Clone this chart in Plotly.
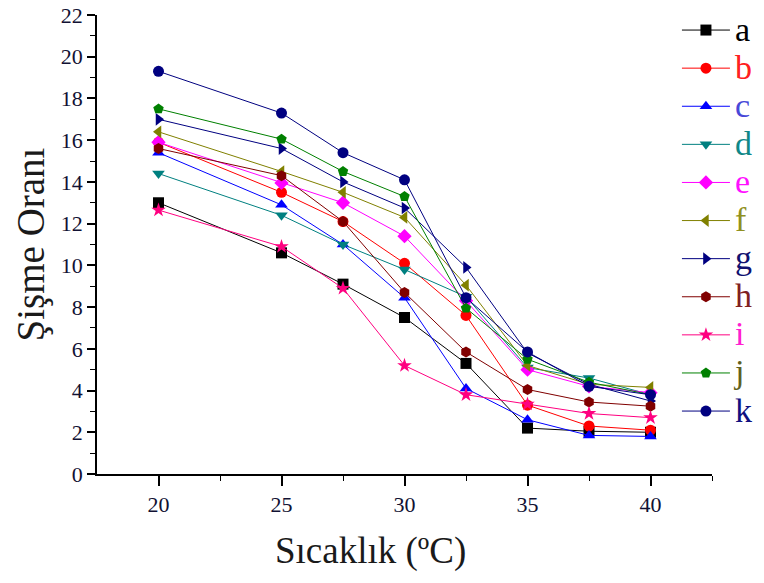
import plotly.graph_objects as go

temps = [20, 25, 27.5, 30, 32.5, 35, 37.5, 40]
series_names = ["a", "b", "c", "d", "e", "f", "g", "h", "i", "j", "k"]
a = [13.0, 10.6, 9.1, 7.5, 5.3, 2.2, 2.05, 2.0]
b = [15.9, 13.5, 12.1, 10.1, 7.6, 3.3, 2.3, 2.1]
c = [15.4, 12.9, 11.0, 8.45, 4.1, 2.6, 1.85, 1.8]
d = [14.4, 12.4, 11.0, 9.8, 8.5, 5.1, 4.6, 3.8]
e = [15.9, 13.95, 13.0, 11.4, 8.3, 5.0, 4.2, 3.9]
f = [16.4, 14.5, 13.5, 12.3, 9.05, 5.2, 4.3, 4.15]
g = [17.0, 15.6, 14.0, 12.75, 9.9, 5.8, 4.3, 3.5]
h = [15.6, 14.3, 12.1, 8.7, 5.85, 4.05, 3.45, 3.25]
i = [12.65, 10.9, 8.9, 5.2, 3.8, 3.35, 2.9, 2.7]
j = [17.5, 16.05, 14.5, 13.3, 7.95, 5.5, 4.4, 3.8]
k = [19.3, 17.3, 15.4, 14.1, 8.45, 5.85, 4.2, 3.8]
values = [a, b, c, d, e, f, g, h, i, j, k]

colors = ["#000000", "#FF0000", "#0000FF", "#008080", "#FF00FF", "#808000",
          "#000080", "#800000", "#FF0080", "#008000", "#000080"]
label_colors = ["#000000", "#FF2020", "#4848D8", "#108888", "#FF10FF", "#909020",
                "#101070", "#802020", "#FF20D0", "#606020", "#101080"]
symbols = ["square", "circle", "triangle-up", "triangle-down", "diamond",
           "triangle-left", "triangle-right", "hexagon", "star", "pentagon", "circle"]

fig = go.Figure()
for nm, vals, col, lc, sym in zip(series_names, values, colors, label_colors, symbols):
    fig.add_trace(go.Scatter(
        x=temps, y=vals, mode="lines+markers",
        name=f"<span style='color:{lc};font-size:34px'>{nm}</span>",
        line=dict(color=col, width=1),
        marker=dict(symbol=sym, size=11, color=col),
    ))

serif = "Liberation Serif, Times New Roman, serif"
fig.update_layout(
    width=764, height=583,
    margin=dict(l=97, r=52, t=15, b=109, autoexpand=False),
    paper_bgcolor="white", plot_bgcolor="white",
    font=dict(family=serif, color="#000000"),
    showlegend=True,
    legend=dict(x=0.943, y=1.0196, xanchor="left", yanchor="top",
                font=dict(family=serif, size=27),
                bgcolor="rgba(0,0,0,0)", itemwidth=48,
                tracegroupgap=0, maxheight=1.0),
    xaxis=dict(range=[17.5, 42.5], tickvals=[20, 25, 30, 35, 40],
               showline=True, linecolor="black", linewidth=1.5,
               ticks="outside", ticklen=10, tickwidth=1.5, tickcolor="black",
               minor=dict(tickvals=[22.5, 27.5, 32.5, 37.5, 42.5], ticks="outside",
                          ticklen=5, tickwidth=1.2, tickcolor="black"),
               showgrid=False, zeroline=False,
               tickfont=dict(family=serif, size=22, color="#111133")),
    yaxis=dict(range=[0, 22], tickvals=list(range(0, 23, 2)),
               showline=True, linecolor="black", linewidth=1.5,
               ticks="outside", ticklen=8, tickwidth=1.5, tickcolor="black",
               minor=dict(tickvals=list(range(1, 22, 2)), ticks="outside",
                          ticklen=5, tickwidth=1.2, tickcolor="black"),
               showgrid=False, zeroline=False,
               tickfont=dict(family=serif, size=22, color="#111133"),
               title=dict(text="Şişme Oranı", font=dict(family=serif, size=39, color="#1a1a1a"),
                          standoff=4)),
    annotations=[dict(text="Sıcaklık (ºC)", xref="paper", yref="paper",
                      x=0.444, y=-0.168, xanchor="center", yanchor="middle",
                      showarrow=False,
                      font=dict(family=serif, size=37, color="#1a1a1a"))],
)

fig.write_html("out.html")
